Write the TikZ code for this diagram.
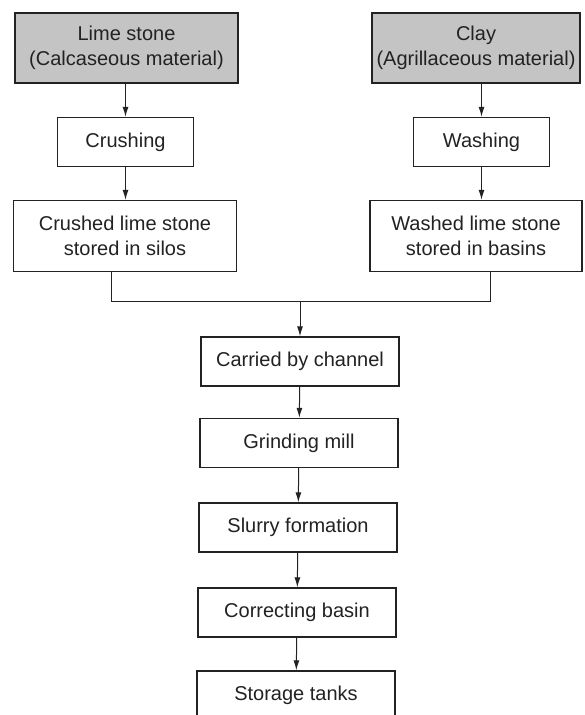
\documentclass[tikz,border=0pt]{standalone}
\usepackage{fontspec}
\setmainfont{Liberation Sans}
\usetikzlibrary{arrows.meta,positioning}
\definecolor{FlowInk}{HTML}{222222}
\definecolor{FlowShade}{HTML}{C4C4C4}
\tikzset{
  flowbox/.style={
    draw=FlowInk,
    fill=white,
    line width=0.7pt,
    align=center,
    inner sep=0pt,
    font=\fontsize{10}{12.5}\selectfont,
    text=FlowInk
  },
  flowsource/.style={
    flowbox,
    fill=FlowShade
  },
  flowarrow/.style={-{Latex[length=5pt,width=3pt]},draw=FlowInk,line width=0.5pt},
  flowline/.style={draw=FlowInk,line width=0.5pt}
}

\begin{document}
\begin{tikzpicture}[
  x=0.5pt,y=-0.5pt,
  wide/.style={flowbox,minimum width=111.5pt,minimum height=35.5pt},
  small/.style={flowbox,minimum width=68pt,minimum height=24.5pt},
  stage/.style={flowbox,minimum width=99pt,minimum height=24.5pt}
]
  \useasboundingbox (0,0) rectangle (584,715);
  \clip (0,0) rectangle (584,715);

  % raw materials
  \node[flowsource,minimum width=111.5pt,minimum height=35pt] (lime) at (126.5,48) {Lime stone\\(Calcaseous material)};
  \node[flowsource,minimum width=104pt,minimum height=35pt] (clay) at (476,48) {Clay\\(Agrillaceous material)};

  \node[small] (crushing) at (125.5,142) {Crushing};
  \node[small] (washing) at (481.5,142) {Washing};

  \node[wide] (crushed) at (125,236) {Crushed lime stone\\stored in silos};
  \node[wide,minimum width=106pt] (washed) at (476,236) {Washed lime stone\\stored in basins};

  % main line
  \node[stage] (channel) at (300,361.5) {Carried by channel};
  \node[stage] (grinding) at (299,443) {Grinding mill};
  \node[stage] (slurry) at (298,527.5) {Slurry formation};
  \node[stage] (correcting) at (297,612.5) {Correcting basin};
  \node[stage] (storage) at (296,695.5) {Storage tanks};

  \coordinate (join) at (300,302);

  \draw[flowarrow] (crushing.north |- lime.south) -- (crushing.north);
  \draw[flowarrow] (crushing.south) -- (crushing.south |- crushed.north);
  \draw[flowarrow] (washing.north |- clay.south) -- (washing.north);
  \draw[flowarrow] (washing.south) -- (washing.south |- washed.north);

  \draw[flowline] ([xshift=-7pt]crushed.south) |- (join);
  \draw[flowline] ([xshift=7pt]washed.south) |- (join);
  \draw[flowarrow] (join) -- (channel.north);

  \draw[flowarrow] (channel) -- (grinding);
  \draw[flowarrow] (grinding) -- (slurry);
  \draw[flowarrow] (slurry) -- (correcting);
  \draw[flowarrow] (correcting) -- (storage);
\end{tikzpicture}
\end{document}
